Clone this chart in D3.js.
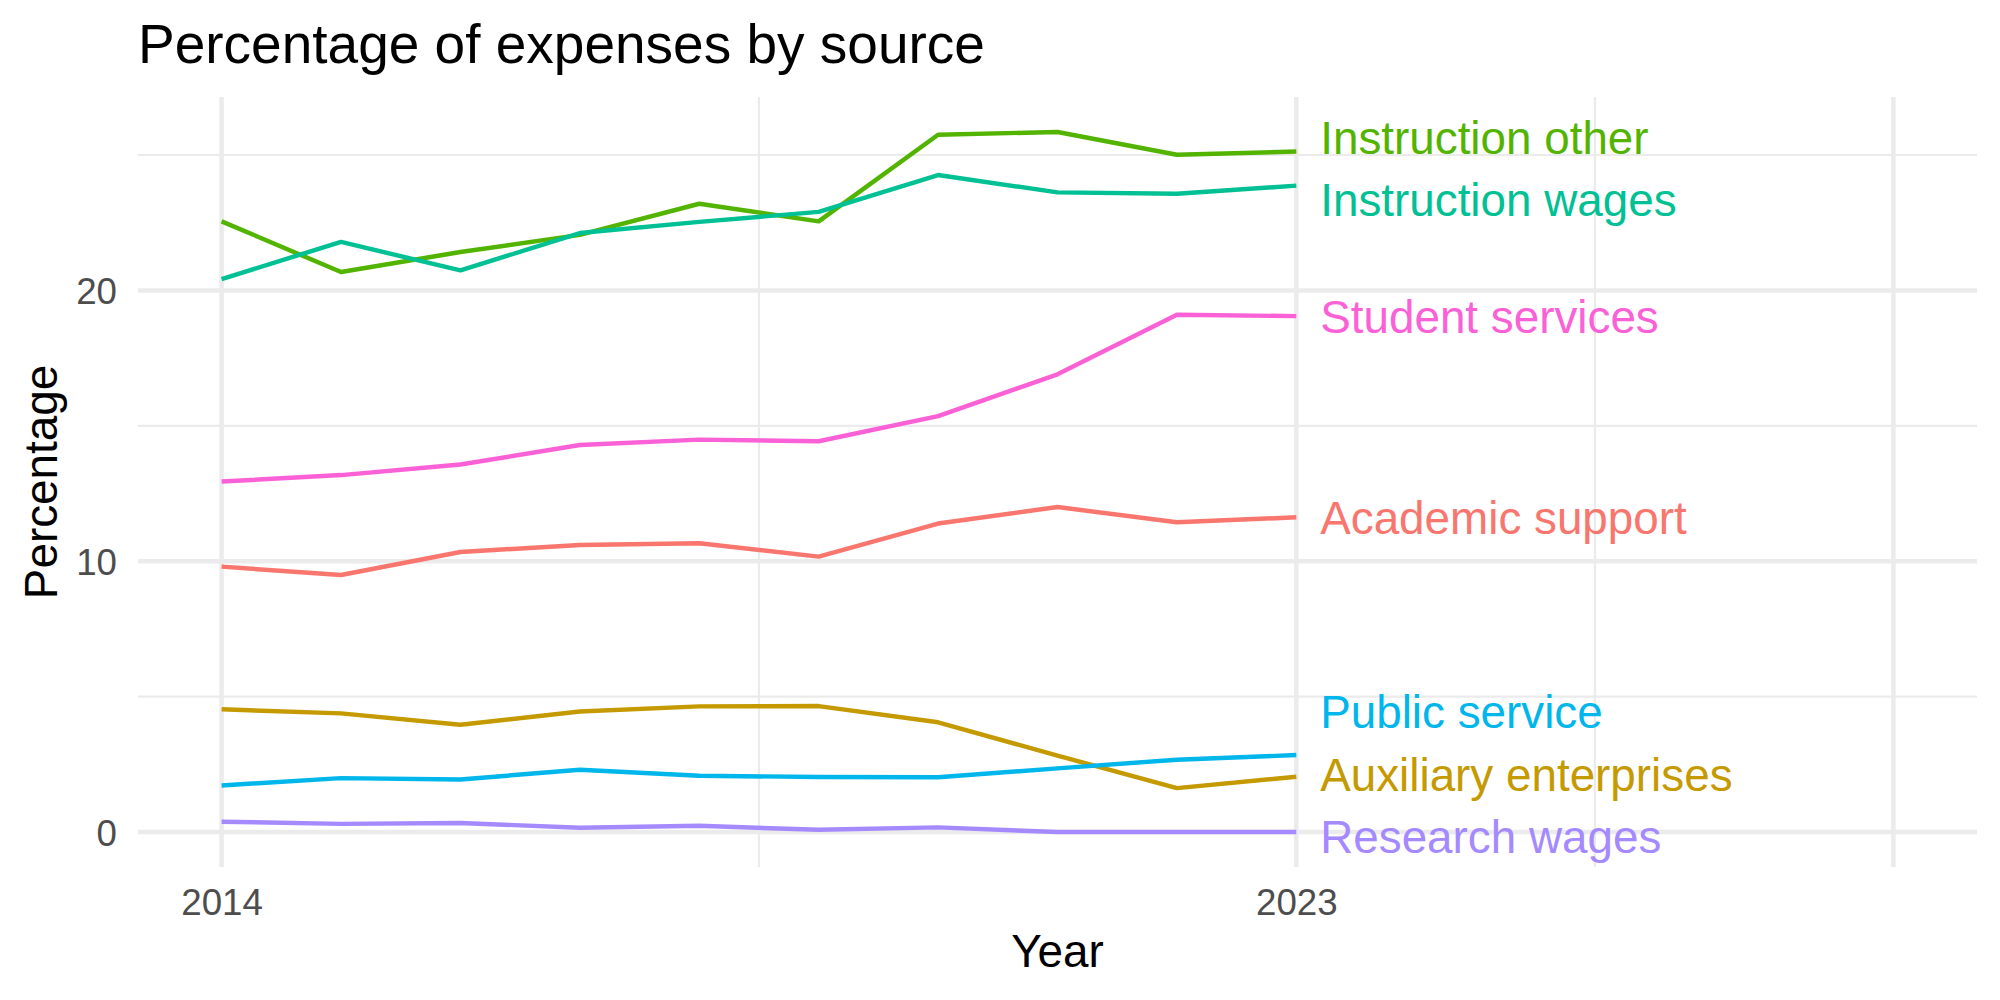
<!DOCTYPE html>
<html>
<head>
<meta charset="utf-8">
<script src="https://cdn.jsdelivr.net/npm/d3@7"></script>
<style>
  body { margin: 0; background: #ffffff; }
  text { font-family: "Liberation Sans", Arial, Helvetica, sans-serif; }
</style>
</head>
<body>
<svg id="chart" width="2000" height="1000"></svg>
<script>
// ---------------- data ----------------
const years = [2014, 2015, 2016, 2017, 2018, 2019, 2020, 2021, 2022, 2023];

const academicSupport      = [9.80, 9.49, 10.34, 10.60, 10.66, 10.17, 11.39, 12.00, 11.44, 11.62];
const auxiliaryEnterprises = [4.53, 4.38, 3.96, 4.45, 4.64, 4.65, 4.05, 2.82, 1.62, 2.04];
const instructionOther     = [22.55, 20.68, 21.42, 22.05, 23.20, 22.55, 25.75, 25.85, 25.01, 25.13];
const instructionWages     = [20.42, 21.79, 20.74, 22.12, 22.53, 22.90, 24.26, 23.62, 23.57, 23.87];
const publicService        = [1.72, 1.99, 1.94, 2.30, 2.08, 2.03, 2.02, 2.35, 2.67, 2.84];
const researchWages        = [0.38, 0.30, 0.33, 0.16, 0.23, 0.08, 0.17, 0.00, 0.00, 0.00];
const studentServices      = [12.94, 13.18, 13.57, 14.29, 14.49, 14.43, 15.36, 16.90, 19.10, 19.05];

const seriesNames  = ["Academic support", "Auxiliary enterprises", "Instruction other",
                      "Instruction wages", "Public service", "Research wages", "Student services"];
const seriesValues = [academicSupport, auxiliaryEnterprises, instructionOther,
                      instructionWages, publicService, researchWages, studentServices];
const seriesColors = ["#F8766D", "#C49A00", "#53B400", "#00C094", "#00B6EB", "#A58AFF", "#FB61D7"];

const xLimits      = [2014, 2028];
const xBreaks      = [2014, 2023, 2028];
const xTickLabels  = ["2014", "2023", ""];
const xMinorBreaks = [2018.5, 2025.5];
const yBreaks      = [0, 10, 20];
const yTickLabels  = ["0", "10", "20"];
const yMinorBreaks = [5, 15, 25];

const titleText  = "Percentage of expenses by source";
const xTitleText = "Year";
const yTitleText = "Percentage";

// ---------------- layout ----------------
const panel = { left: 138, right: 1977, top: 97, bottom: 867 };
const svg = d3.select("#chart");

const series = seriesNames.map((name, i) => ({
  name, color: seriesColors[i],
  points: years.map((yr, j) => ({ year: yr, value: seriesValues[i][j] }))
}));

const allVals = seriesValues.flat();
const yMin = d3.min(allVals), yMax = d3.max(allVals);
const yPad = (yMax - yMin) * 0.05;
const xPad = (xLimits[1] - xLimits[0]) * 0.05;

const x = d3.scaleLinear().domain([xLimits[0] - xPad, xLimits[1] + xPad]).range([panel.left, panel.right]);
const y = d3.scaleLinear().domain([yMin - yPad, yMax + yPad]).range([panel.bottom, panel.top]);

// ---------------- grid ----------------
const grid = svg.append("g");
const gridColor = "#EBEBEB";
grid.selectAll("line.yminor").data(yMinorBreaks).join("line")
  .attr("x1", panel.left).attr("x2", panel.right)
  .attr("y1", d => y(d)).attr("y2", d => y(d))
  .attr("stroke", gridColor).attr("stroke-width", 2.2);
grid.selectAll("line.xminor").data(xMinorBreaks).join("line")
  .attr("y1", panel.top).attr("y2", panel.bottom)
  .attr("x1", d => x(d)).attr("x2", d => x(d))
  .attr("stroke", gridColor).attr("stroke-width", 2.2);
grid.selectAll("line.ymajor").data(yBreaks).join("line")
  .attr("x1", panel.left).attr("x2", panel.right)
  .attr("y1", d => y(d)).attr("y2", d => y(d))
  .attr("stroke", gridColor).attr("stroke-width", 4.45);
grid.selectAll("line.xmajor").data(xBreaks).join("line")
  .attr("y1", panel.top).attr("y2", panel.bottom)
  .attr("x1", d => x(d)).attr("x2", d => x(d))
  .attr("stroke", gridColor).attr("stroke-width", 4.45);

// ---------------- axes (d3 axes, ticks hidden like theme_minimal) ----------------
const xAxis = d3.axisBottom(x).tickValues(xBreaks)
  .tickFormat((d, i) => xTickLabels[i]).tickSize(0).tickPadding(0);
const xg = svg.append("g").attr("transform", `translate(0,${panel.bottom})`).call(xAxis);
xg.select(".domain").remove();
xg.selectAll("text").attr("font-size", 36.7).attr("fill", "#4D4D4D")
  .attr("font-family", "Liberation Sans, Arial, sans-serif")
  .attr("dy", null).attr("y", 48);

const yAxis = d3.axisLeft(y).tickValues(yBreaks)
  .tickFormat((d, i) => yTickLabels[i]).tickSize(0).tickPadding(0);
const yg = svg.append("g").attr("transform", `translate(${panel.left},0)`).call(yAxis);
yg.select(".domain").remove();
yg.selectAll("text").attr("font-size", 36.7).attr("fill", "#4D4D4D")
  .attr("font-family", "Liberation Sans, Arial, sans-serif")
  .attr("x", -21).attr("dy", "0.36em");

// ---------------- lines ----------------
const line = d3.line().x(d => x(d.year)).y(d => y(d.value));
svg.append("g").selectAll("path").data(series).join("path")
  .attr("d", d => line(d.points))
  .attr("fill", "none")
  .attr("stroke", d => d.color)
  .attr("stroke-width", 4.45)
  .attr("stroke-linejoin", "round")
  .attr("stroke-linecap", "butt");

// ---------------- end labels with simple 1-D repel ----------------
const fontSize = 45.8;
const minGap = 62.5;
const lowB = panel.top + 30, highB = panel.bottom - 30;
let items = series.map(s => ({ s, target: y(s.points[s.points.length - 1].value) }))
  .sort((a, b) => a.target - b.target);
let clusters = items.map(it => [it]);
function place(c) {
  const mean = d3.mean(c, d => d.target);
  let first = mean - (c.length - 1) / 2 * minGap;
  const last = first + (c.length - 1) * minGap;
  if (first < lowB) first = lowB;
  if (last > highB) first -= (last - highB);
  c.forEach((d, k) => d.pos = first + k * minGap);
}
let changed = true;
while (changed) {
  changed = false;
  clusters.forEach(place);
  for (let i = 0; i < clusters.length - 1; i++) {
    const a = clusters[i], b = clusters[i + 1];
    if (b[0].pos - a[a.length - 1].pos < minGap - 0.01) {
      clusters.splice(i, 2, a.concat(b));
      changed = true;
      break;
    }
  }
}
const lastYear = years[years.length - 1];
svg.append("g").selectAll("text").data(items).join("text")
  .attr("x", x(lastYear + 0.2))
  .attr("y", d => d.pos)
  .attr("dy", "0.358em")
  .attr("font-size", fontSize)
  .attr("fill", d => d.s.color)
  .text(d => d.s.name);

// ---------------- titles ----------------
svg.append("text").attr("x", panel.left).attr("y", 63)
  .attr("font-size", 55).attr("fill", "#000").text(titleText);
svg.append("text").attr("x", (panel.left + panel.right) / 2).attr("y", 967)
  .attr("text-anchor", "middle").attr("font-size", 45.8).attr("fill", "#000").text(xTitleText);
svg.append("text")
  .attr("transform", `translate(57,${(panel.top + panel.bottom) / 2}) rotate(-90)`)
  .attr("text-anchor", "middle").attr("font-size", 45.8).attr("fill", "#000").text(yTitleText);
</script>
</body>
</html>
